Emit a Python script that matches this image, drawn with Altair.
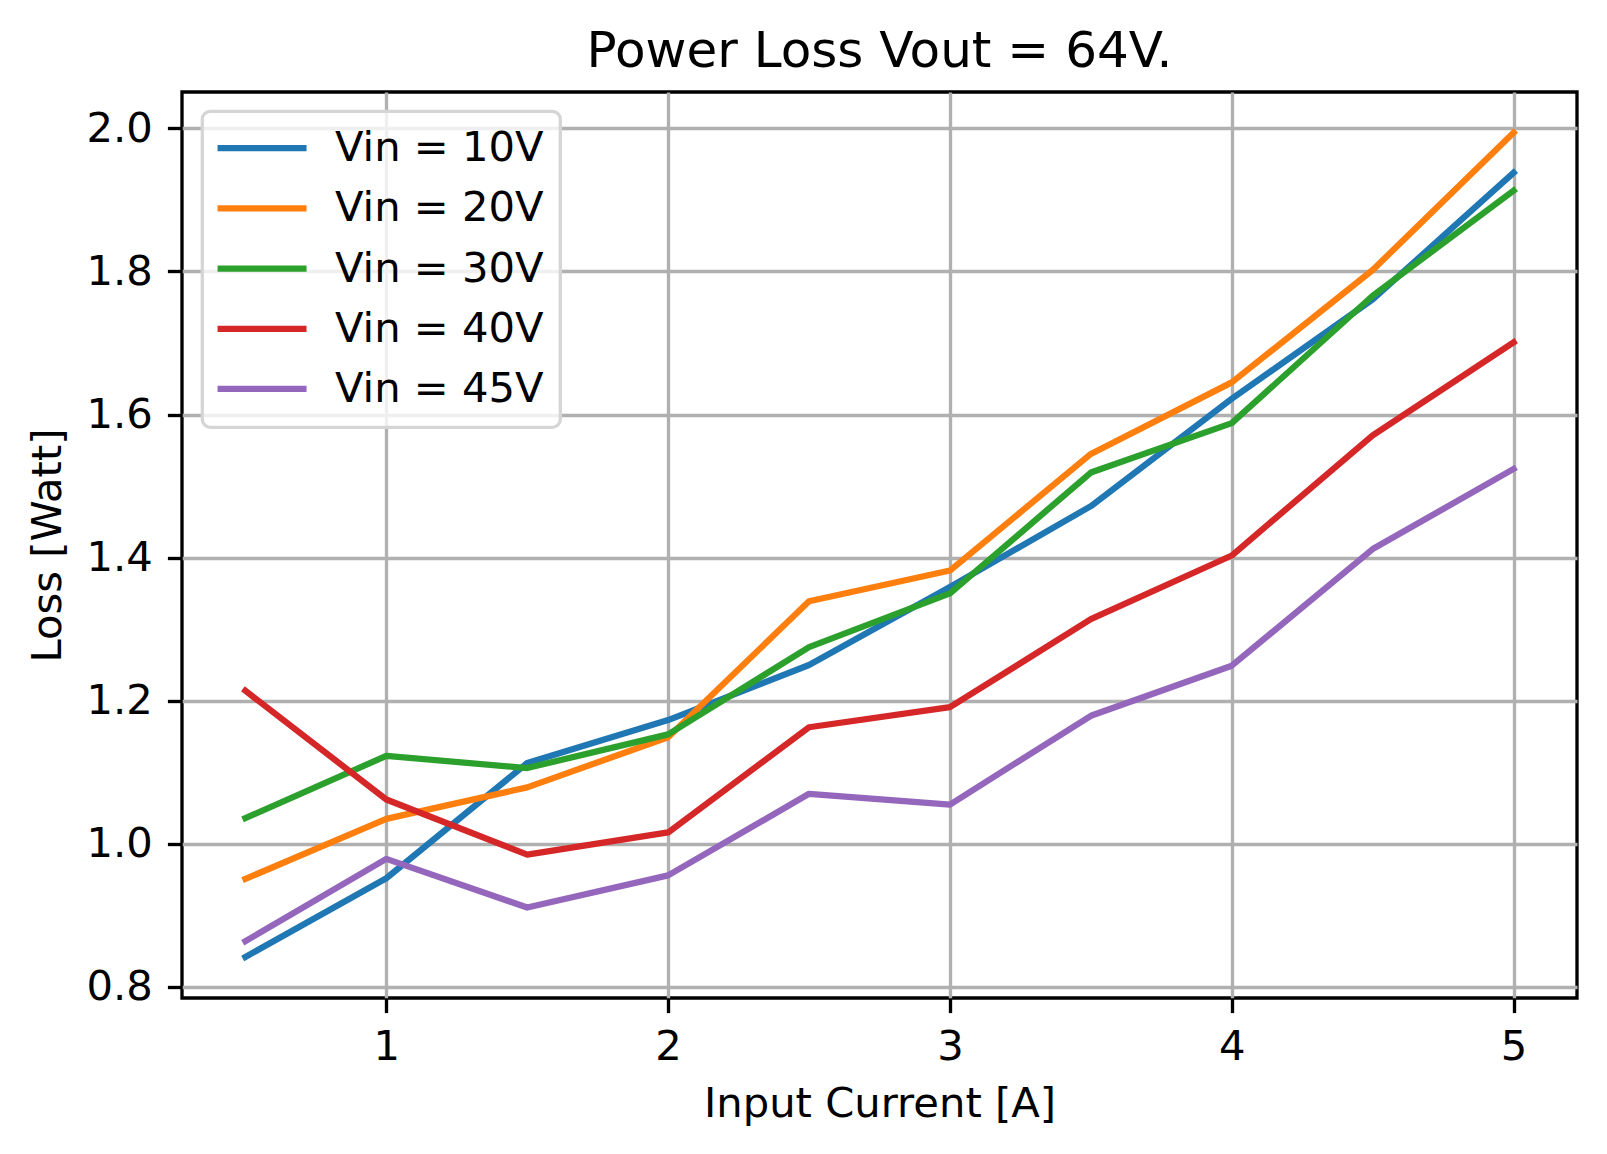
import altair as alt
import pandas as pd

# ---- data ----
current = [0.5, 1.0, 1.5, 2.0, 2.5, 3.0, 3.5, 4.0, 4.5, 5.0]
series = ["Vin = 10V", "Vin = 20V", "Vin = 30V", "Vin = 40V", "Vin = 45V"]
loss_10v = [0.842, 0.952, 1.113, 1.173, 1.250, 1.359, 1.472, 1.622, 1.761, 1.938]
loss_20v = [0.951, 1.035, 1.079, 1.149, 1.339, 1.382, 1.545, 1.645, 1.802, 1.994]
loss_30v = [1.036, 1.123, 1.106, 1.153, 1.275, 1.350, 1.519, 1.588, 1.766, 1.913]
loss_40v = [1.214, 1.062, 0.985, 1.016, 1.163, 1.191, 1.314, 1.403, 1.571, 1.701]
loss_45v = [0.864, 0.979, 0.911, 0.956, 1.070, 1.055, 1.179, 1.249, 1.412, 1.524]
x_ticks = [1, 2, 3, 4, 5]
y_ticks = [0.8, 1.0, 1.2, 1.4, 1.6, 1.8, 2.0]
colors = ["#1f77b4", "#ff7f0e", "#2ca02c", "#d62728", "#9467bd"]

rows = []
for name, vals in zip(series, [loss_10v, loss_20v, loss_30v, loss_40v, loss_45v]):
    for i, (c, v) in enumerate(zip(current, vals)):
        rows.append({"current": c, "loss": v, "series": name, "idx": i})
df = pd.DataFrame(rows)

FONT = "DejaVu Sans"
FS = 41.7
W, H = 1395, 906

chart = alt.Chart(df).mark_line(
    strokeWidth=6.25, strokeCap="square", strokeJoin="round"
).encode(
    x=alt.X("current:Q",
            scale=alt.Scale(domain=[0.275, 5.225], nice=False, zero=False),
            axis=alt.Axis(title="Input Current [A]", values=x_ticks, format="d",
                          labelBaseline="alphabetic", labelPadding=46.5,
                          labelFlush=False, labelOverlap=False,
                          titleBaseline="alphabetic", titleY=118.7)),
    y=alt.Y("loss:Q",
            scale=alt.Scale(domain=[0.7846, 2.0508], nice=False, zero=False),
            axis=alt.Axis(title="Loss [Watt]", values=y_ticks, format=".1f",
                          labelPadding=15, labelOverlap=False,
                          titleAngle=270, titleBaseline="alphabetic",
                          titleX=-122, titleY=H / 2)),
    color=alt.Color("series:N",
                    scale=alt.Scale(domain=series, range=colors),
                    legend=alt.Legend(title=None, orient="none",
                                      legendX=20.3, legendY=19.3,
                                      symbolType="M-4.45,0H4.45", symbolSize=400,
                                      symbolStrokeWidth=6.25, symbolOffset=22.9,
                                      labelOffset=52.1, rowPadding=17.2,
                                      labelLimit=0,
                                      padding=16,
                                      fillColor="rgba(255,255,255,0.8)",
                                      strokeColor="#d5d5d5",
                                      cornerRadius=8)),
    order=alt.Order("idx:Q"),
).properties(
    width=W, height=H,
    title=alt.Title("Power Loss Vout = 64V.", font=FONT, fontSize=50,
                    fontWeight="normal", color="black", anchor="middle",
                    frame="group", baseline="alphabetic", offset=22, dy=47),
    autosize=alt.AutoSizeParams(type="none"),
    padding={"left": 174, "top": 84, "right": 20, "bottom": 140},
).configure(
    background="white",
).configure_view(
    stroke="black", strokeWidth=3.33,
).configure_axis(
    domain=False,
    labelFont=FONT, labelFontSize=FS, labelColor="black",
    titleFont=FONT, titleFontSize=FS, titleColor="black", titleFontWeight="normal",
    tickColor="black", tickWidth=3.33, tickSize=14.6,
    gridColor="#b0b0b0", gridWidth=3.33,
).configure_legend(
    labelFont=FONT, labelFontSize=FS, labelColor="black",
    strokeWidth=3.3,
)

chart.save("out.html", embed_options={"renderer": "svg", "actions": False})
